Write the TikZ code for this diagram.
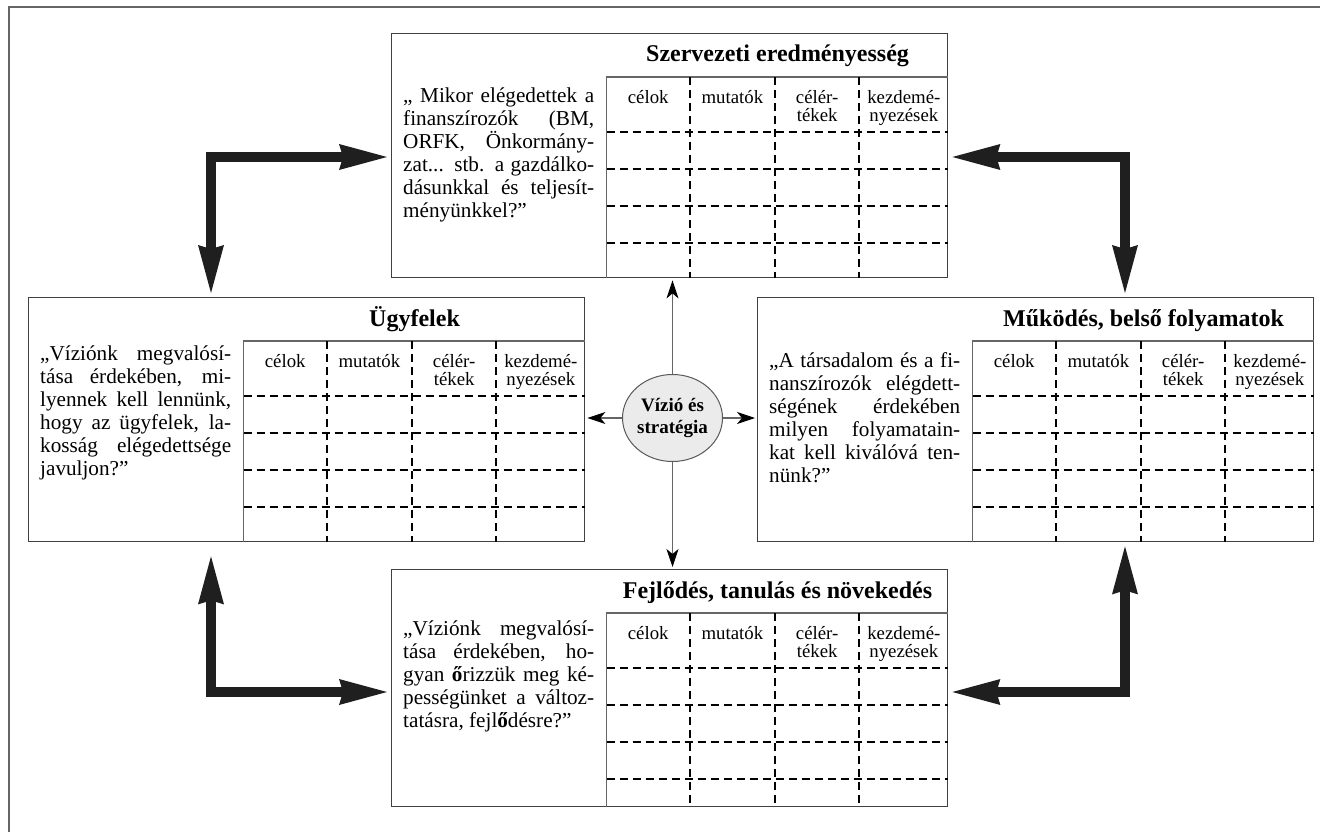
\documentclass[tikz,border=0pt]{standalone}
\usepackage{fontspec}
\setmainfont{Liberation Serif}
\usetikzlibrary{arrows.meta,calc,shapes.geometric}

\tikzset{
  keret/.style={draw=black!60,line width=2.4pt,line join=miter},
  doboz/.style={draw=black!75,line width=1.4pt,minimum width=556pt,minimum height=244pt,anchor=north west,inner sep=0pt},
  tablavonal/.style={draw=black!60,line width=1.3pt},
  szaggatott/.style={draw=black,line width=1.9pt,dash pattern=on 8pt off 5pt},
  fejlec/.style={anchor=north,inner sep=0pt,align=center,font=\fontsize{18.8}{18}\selectfont},
  cim/.style={anchor=base,inner sep=0pt,font=\bfseries\fontsize{24}{28}\selectfont},
  szoveg/.style={anchor=north west,inner sep=0pt,text width=191pt,align=justify,font=\fontsize{21.2}{23}\selectfont},
  vizio/.style={ellipse,draw=black!65,fill=black!8,line width=1pt,minimum width=99pt,minimum height=87pt,inner sep=0pt,align=center,font=\bfseries\fontsize{19}{21.7}\selectfont},
  vekony/.style={draw=black!60,line width=1.1pt,-{Stealth[length=18pt,width=12pt,inset=5pt,color=black]},shorten >=2pt},
  vastag/.style={draw=black!88,line width=10pt,line join=miter,{Stealth[length=48pt,width=26pt,inset=4pt,line width=0pt]}-{Stealth[length=48pt,width=26pt,inset=4pt,line width=0pt]},shorten >=4pt,shorten <=4pt}
}

% tablazat a doboz jobb oldalan
\newcommand{\tablazat}[1]{%
  \coordinate (#1-bf) at ($(#1.north west)!0.387!(#1.north east)+(0,44)$);
  \coordinate (#1-jf) at (#1-bf -| #1.east);
  \coordinate (#1-ba) at (#1-bf |- #1.south);
  \draw[tablavonal] (#1-ba) -- (#1-bf) -- (#1-jf);
  \foreach \f in {0.536,0.689,0.840}
    \draw[szaggatott] ($(#1.north west)!\f!(#1.north east)+(0,44)$) -- ($(#1.south west)!\f!(#1.south east)$);
  \foreach \d in {55,92,129,166}
    \draw[szaggatott] ($(#1-bf)+(0,\d)$) -- ($(#1-jf)+(0,\d)$);
  \node[fejlec] (#1-c1) at ($(#1.north west)!0.4615!(#1.north east)+(0,57)$) {célok};
  \node[fejlec] (#1-c2) at ($(#1.north west)!0.6125!(#1.north east)+(0,57)$) {mutatók};
  \node[fejlec] (#1-c3) at ($(#1.north west)!0.7645!(#1.north east)+(0,57)$) {célér-\\tékek};
  \node[fejlec] (#1-c4) at ($(#1.north west)!0.92!(#1.north east)+(0,57)$) {kezdemé-\\nyezések};
}

\begin{document}
\begin{tikzpicture}[x=1pt,y=-1pt]
\useasboundingbox (0,0) rectangle (1320,832);

\draw[keret] (9,832) -- (9,7) -- (1320,7);

% dobozok
\node[doboz] (szerv) at (391,33) {};
\node[doboz] (ugyf)  at (28,297) {};
\node[doboz] (mukod) at (757,297) {};
\node[doboz,minimum height=237pt] (fejl) at (391,569) {};

\tablazat{szerv}
\tablazat{ugyf}
\tablazat{mukod}
\tablazat{fejl}

% cimek
\node[cim] (szerv-cim) at ($(szerv.north west)!0.6935!(szerv.north east)+(0,29)$) {Szervezeti eredményesség};
\node[cim] (ugyf-cim)  at ($(ugyf.north west)!0.6935!(ugyf.north east)+(0,29)$) {Ügyfelek};
\node[cim] (mukod-cim) at ($(mukod.north west)!0.6935!(mukod.north east)+(0,29)$) {Működés, belső folyamatok};
\node[cim] (fejl-cim)  at ($(fejl.north west)!0.6935!(fejl.north east)+(0,29)$) {Fejlődés, tanulás és növekedés};

% kerdesek
\node[szoveg] (szerv-k) at ($(szerv.north west)+(12,53)$) {\strut„ Mikor elégedettek a\linebreak finanszírozók (BM,\linebreak ORFK, Önkormány-\linebreak zat... stb. a gazdálko-\linebreak dásunkkal és teljesít-\linebreak ményünkkel?”};
\node[szoveg] (ugyf-k) at ($(ugyf.north west)+(12,47)$) {\strut„Víziónk megvalósí-\linebreak tása érdekében, mi-\linebreak lyennek kell lennünk,\linebreak hogy az ügyfelek, la-\linebreak kosság elégedettsége\linebreak javuljon?”};
\node[szoveg] (mukod-k) at ($(mukod.north west)+(12,54)$) {\strut„A társadalom és a fi-\linebreak nanszírozók elégdett-\linebreak ségének érdekében\linebreak milyen folyamatain-\linebreak kat kell kiválóvá ten-\linebreak nünk?”};
\node[szoveg] (fejl-k) at ($(fejl.north west)+(12,50)$) {\strut„Víziónk megvalósí-\linebreak tása érdekében, ho-\linebreak gyan \textbf{ő}rizzük meg ké-\linebreak pességünket a változ-\linebreak tatásra, fejl\textbf{ő}désre?”};

% kozep
\node[vizio] (vizio) at (672.5,418) {Vízió és\\stratégia};

\draw[vekony] (vizio.north) -- (vizio.north |- szerv.south);
\draw[vekony] (vizio.south) -- (vizio.south |- fejl.north);
\draw[vekony] (vizio.west) -- (vizio.west -| ugyf.east);
\draw[vekony] (vizio.east) -- (vizio.east -| mukod.west);

% vastag nyilak
\coordinate (bf) at (211,157);
\coordinate (jf) at (1125,157);
\coordinate (ba) at (211,692);
\coordinate (ja) at (1125,692);

\draw[vastag] (bf -| szerv.west) -| (bf |- ugyf.north);
\draw[vastag] (jf -| szerv.east) -| (jf |- mukod.north);
\draw[vastag,shorten >=14pt] (ba -| fejl.west) -| (ba |- ugyf.south);
\draw[vastag] (ja -| fejl.east) -| (ja |- mukod.south);

\end{tikzpicture}
\end{document}
